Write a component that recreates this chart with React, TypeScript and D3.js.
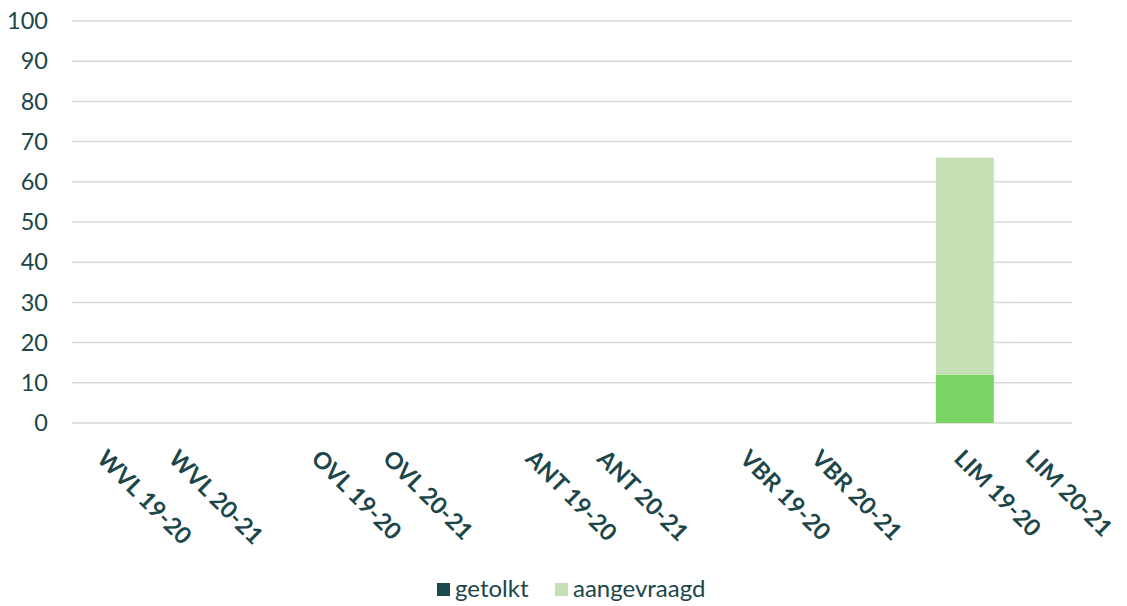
import React from "react";
import * as d3 from "d3";

const categories = [
  "WVL 19-20", "WVL 20-21", "",
  "OVL 19-20", "OVL 20-21", " ",
  "ANT 19-20", "ANT 20-21", "  ",
  "VBR 19-20", "VBR 20-21", "   ",
  "LIM 19-20", "LIM 20-21",
];
const getolkt = [0, 0, 0, 0, 0, 0, 0, 0, 0, 0, 0, 0, 12, 0];
const aangevraagd = [0, 0, 0, 0, 0, 0, 0, 0, 0, 0, 0, 0, 54, 0];
const yTicks = [0, 10, 20, 30, 40, 50, 60, 70, 80, 90, 100];
const seriesNames = ["getolkt", "aangevraagd"];

const W = 1127, H = 606;
const left = 72, right = 1072, top = 21, bottom = 423;
const textColor = "#1c4649";
const colGetolkt = "#1b4a4d";
const colGetolktBar = "#78d463";
const colAangevraagd = "#c5e0b4";

export default function App() {
  const x = d3.scaleBand<string>().domain(categories).range([left, right]).paddingInner(0.19).paddingOuter(0.095);
  const y = d3.scaleLinear().domain([0, 100]).range([bottom, top]);
  const font = "Lato, 'Noto Sans', sans-serif";
  return (
    <svg width={W} height={H} style={{ position: "absolute", left: 0, top: 0 }} fontFamily={font}>
      <rect width={W} height={H} fill="#fff" />
      {yTicks.map((t) => (
        <g key={t}>
          <line x1={left} x2={right} y1={y(t)} y2={y(t)} stroke="#d9d9d9" strokeWidth={1.5} />
          <text x={48} y={y(t)} dy="0.35em" textAnchor="end" fontSize={23.5} fill={textColor}>{t}</text>
        </g>
      ))}
      {categories.map((c, i) => {
        const x0 = x(c)!;
        const bw = x.bandwidth();
        const g = getolkt[i], a = aangevraagd[i];
        return (
          <g key={i}>
            {g > 0 && <rect x={x0} width={bw} y={y(g)} height={y(0) - y(g)} fill={colGetolktBar} />}
            {a > 0 && <rect x={x0} width={bw} y={y(g + a)} height={y(g) - y(g + a)} fill={colAangevraagd} />}
          </g>
        );
      })}
      {categories.map((c, i) => {
        if (!c.trim()) return null;
        const cx = x(c)! + x.bandwidth() / 2;
        return (
          <text key={"l" + i} transform={`translate(${cx - 12},${460}) rotate(45)`} fontSize={23.5} fontWeight={700} fill={textColor}>{c}</text>
        );
      })}
      <g transform="translate(437,583)">
        <rect x={0} y={0} width={13} height={13} fill={colGetolkt} />
        <text x={18} y={14} fontSize={24} fill={textColor}>{seriesNames[0]}</text>
        <rect x={118} y={0} width={13} height={13} fill={colAangevraagd} />
        <text x={136} y={14} fontSize={24} fill={textColor}>{seriesNames[1]}</text>
      </g>
    </svg>
  );
}
